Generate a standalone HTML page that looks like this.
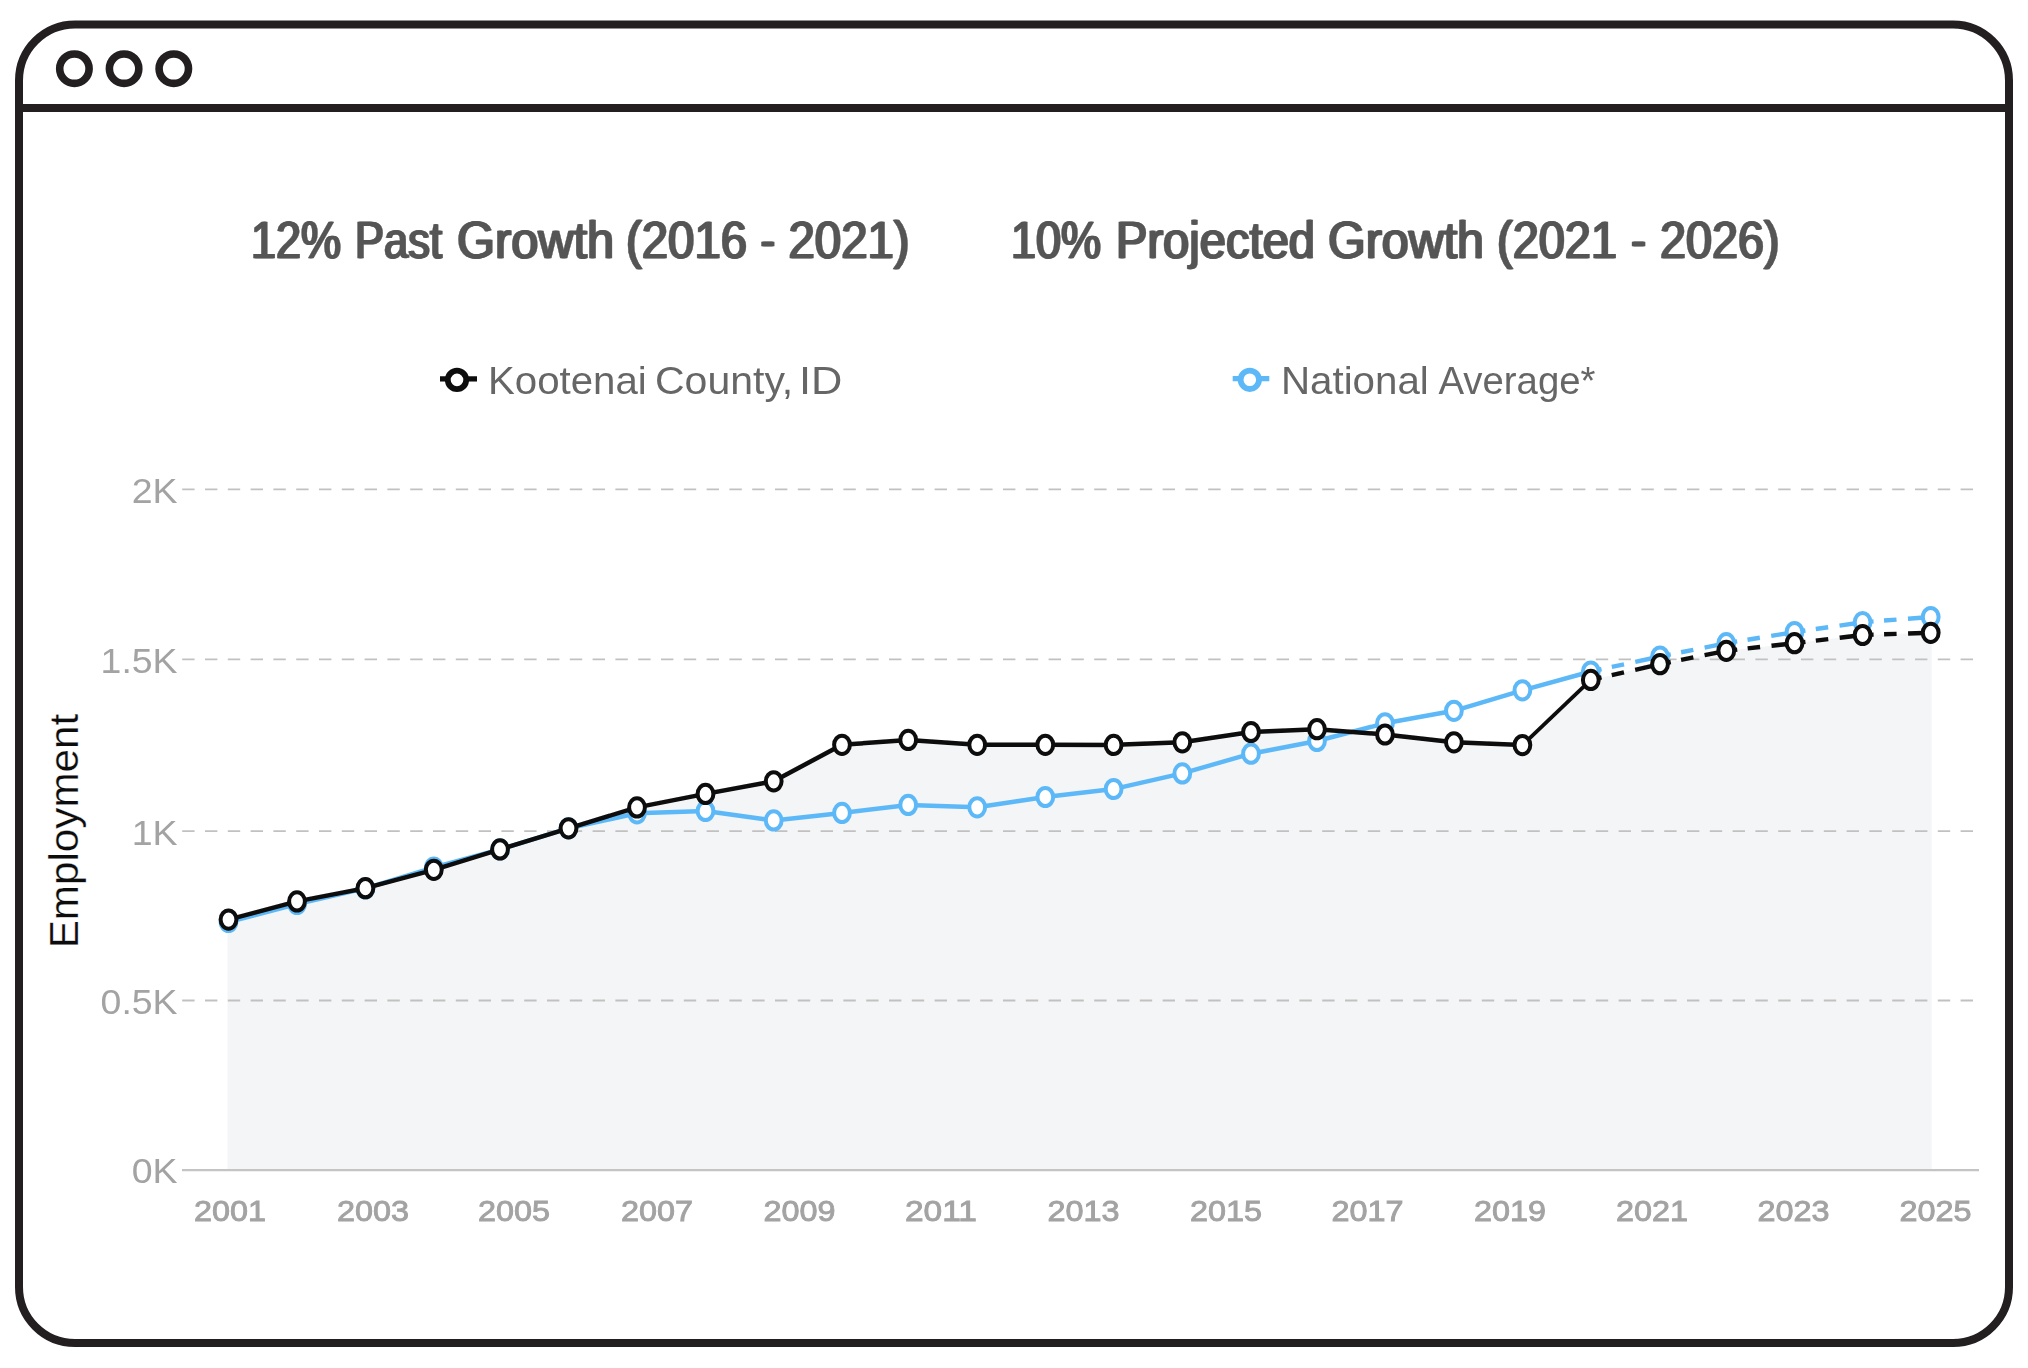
<!DOCTYPE html>
<html lang="en">
<head>
<meta charset="utf-8">
<title>Employment Growth</title>
<style>
html,body{margin:0;padding:0;background:#fff;}
body{width:2028px;height:1368px;overflow:hidden;font-family:"Liberation Sans",sans-serif;}
svg{display:block;position:absolute;left:0;top:0;}
text{font-family:"Liberation Sans",sans-serif;}
.title{font-size:51.5px;fill:#555;stroke:#555;stroke-width:0.4px;stroke-linejoin:round;}
.leg{font-size:38.5px;fill:#666;}
.ytick{font-size:35.3px;fill:#a3a3a3;}
.xtick{font-size:29px;fill:#a3a3a3;stroke:#a3a3a3;stroke-width:0.9px;}
.axis{font-size:40px;fill:#0c0c0c;stroke:#fff;stroke-width:0.25px;}
</style>
</head>
<body>
<svg width="2028" height="1368" viewBox="0 0 2028 1368">
<defs>
<filter id="soft" x="-5%" y="-5%" width="110%" height="110%"><feGaussianBlur stdDeviation="0.5"/></filter>
<filter id="hs" x="-2%" y="-20%" width="104%" height="140%"><feOffset in="SourceGraphic" dx="-0.6" dy="0" result="a"/><feOffset in="SourceGraphic" dx="0.6" dy="0" result="b"/><feMerge result="m"><feMergeNode in="a"/><feMergeNode in="b"/><feMergeNode in="SourceGraphic"/></feMerge><feGaussianBlur in="m" stdDeviation="0.55"/></filter>
</defs>
<!-- browser frame -->
<rect x="19" y="24.5" width="1990" height="1318.5" rx="56" ry="56" fill="#fff" stroke="#231f20" stroke-width="8"/>
<line x1="19" y1="108" x2="2009" y2="108" stroke="#231f20" stroke-width="8"/>
<circle cx="74.4" cy="68.7" r="14.7" fill="none" stroke="#231f20" stroke-width="7.6"/>
<circle cx="124.1" cy="68.7" r="14.7" fill="none" stroke="#231f20" stroke-width="7.6"/>
<circle cx="173.8" cy="68.7" r="14.7" fill="none" stroke="#231f20" stroke-width="7.6"/>

<g filter="url(#soft)">
<text class="title" y="258.3" filter="url(#hs)"><tspan x="251.00" textLength="90.08" lengthAdjust="spacingAndGlyphs">12%</tspan> <tspan x="355.00" textLength="87.04" lengthAdjust="spacingAndGlyphs">Past</tspan> <tspan x="457.00" textLength="157.06" lengthAdjust="spacingAndGlyphs">Growth</tspan> <tspan x="626.00" textLength="121.06" lengthAdjust="spacingAndGlyphs">(2016</tspan> <tspan x="760.50" textLength="14.62" lengthAdjust="spacingAndGlyphs">-</tspan> <tspan x="788.50" textLength="121.06" lengthAdjust="spacingAndGlyphs">2021)</tspan></text>
<text class="title" y="258.3" filter="url(#hs)"><tspan x="1011.00" textLength="90.05" lengthAdjust="spacingAndGlyphs">10%</tspan> <tspan x="1116.00" textLength="199.07" lengthAdjust="spacingAndGlyphs">Projected</tspan> <tspan x="1328.00" textLength="156.04" lengthAdjust="spacingAndGlyphs">Growth</tspan> <tspan x="1497.00" textLength="120.06" lengthAdjust="spacingAndGlyphs">(2021</tspan> <tspan x="1631.00" textLength="15.11" lengthAdjust="spacingAndGlyphs">-</tspan> <tspan x="1660.00" textLength="119.55" lengthAdjust="spacingAndGlyphs">2026)</tspan></text>
<line x1="440" y1="378.8" x2="477" y2="378.8" stroke="#0b0b0b" stroke-width="5.2"/>
<circle cx="457" cy="379.9" r="9.2" fill="#fff" stroke="#0b0b0b" stroke-width="5.8"/>
<text class="leg" y="393.6"><tspan x="488.00" textLength="158.73" lengthAdjust="spacingAndGlyphs">Kootenai</tspan> <tspan x="655.00" textLength="138.24" lengthAdjust="spacingAndGlyphs">County,</tspan> <tspan x="799.00" textLength="43.37" lengthAdjust="spacingAndGlyphs">ID</tspan></text>
<line x1="1232.7" y1="378.7" x2="1269.3" y2="378.7" stroke="#5db8f8" stroke-width="5.2"/>
<circle cx="1249.8" cy="379.8" r="9.2" fill="#fff" stroke="#5db8f8" stroke-width="5.8"/>
<text class="leg" y="393.6"><tspan x="1281.00" textLength="147.75" lengthAdjust="spacingAndGlyphs">National</tspan> <tspan x="1438.50" textLength="157.00" lengthAdjust="spacingAndGlyphs">Average*</tspan></text>
<path d="M227.5,1170 L227.5,919.6 L228.5,919.6 L297.0,901.4 L365.4,888.2 L433.8,869.8 L500.0,849.4 L568.5,828.3 L637.0,807.4 L705.5,793.9 L773.7,781.3 L842.0,744.8 L908.2,739.9 L977.2,744.8 L1045.3,744.8 L1113.6,744.9 L1182.3,742.3 L1251.0,732.0 L1317.0,729.2 L1385.0,734.5 L1453.9,742.3 L1522.4,745.1 L1590.8,679.9 L1660.0,664.2 L1726.3,650.8 L1794.5,643.2 L1862.6,635.0 L1930.7,632.8 L1931.7,632.8 L1931.7,1170 Z" fill="#f4f5f7"/>
<line x1="182.2" y1="489.4" x2="1973.4" y2="489.4" stroke="#c1c1c1" stroke-width="1.8" stroke-dasharray="12.4 10.4"/>
<line x1="182.2" y1="659.3" x2="1973.4" y2="659.3" stroke="#c1c1c1" stroke-width="1.8" stroke-dasharray="12.4 10.4"/>
<line x1="182.2" y1="831.1" x2="1973.4" y2="831.1" stroke="#c1c1c1" stroke-width="1.8" stroke-dasharray="12.4 10.4"/>
<line x1="182.2" y1="1000.5" x2="1973.4" y2="1000.5" stroke="#c1c1c1" stroke-width="1.8" stroke-dasharray="12.4 10.4"/>
<line x1="182" y1="1170.2" x2="1979" y2="1170.2" stroke="#c4c4c4" stroke-width="2.2"/>
<text class="ytick" x="131.7" y="503.3" textLength="45.9" lengthAdjust="spacingAndGlyphs">2K</text>
<text class="ytick" x="100.6" y="673.1" textLength="77.0" lengthAdjust="spacingAndGlyphs">1.5K</text>
<text class="ytick" x="131.7" y="844.9" textLength="45.9" lengthAdjust="spacingAndGlyphs">1K</text>
<text class="ytick" x="100.6" y="1014.3" textLength="77.0" lengthAdjust="spacingAndGlyphs">0.5K</text>
<text class="ytick" x="131.7" y="1183.3" textLength="45.9" lengthAdjust="spacingAndGlyphs">0K</text>
<text class="xtick" x="194.0" y="1220.6" textLength="72" lengthAdjust="spacingAndGlyphs">2001</text>
<text class="xtick" x="337.0" y="1220.6" textLength="72" lengthAdjust="spacingAndGlyphs">2003</text>
<text class="xtick" x="478.0" y="1220.6" textLength="72" lengthAdjust="spacingAndGlyphs">2005</text>
<text class="xtick" x="621.0" y="1220.6" textLength="72" lengthAdjust="spacingAndGlyphs">2007</text>
<text class="xtick" x="763.5" y="1220.6" textLength="72" lengthAdjust="spacingAndGlyphs">2009</text>
<text class="xtick" x="905.0" y="1220.6" textLength="72" lengthAdjust="spacingAndGlyphs">2011</text>
<text class="xtick" x="1047.5" y="1220.6" textLength="72" lengthAdjust="spacingAndGlyphs">2013</text>
<text class="xtick" x="1190.0" y="1220.6" textLength="72" lengthAdjust="spacingAndGlyphs">2015</text>
<text class="xtick" x="1331.5" y="1220.6" textLength="72" lengthAdjust="spacingAndGlyphs">2017</text>
<text class="xtick" x="1474.0" y="1220.6" textLength="72" lengthAdjust="spacingAndGlyphs">2019</text>
<text class="xtick" x="1616.0" y="1220.6" textLength="72" lengthAdjust="spacingAndGlyphs">2021</text>
<text class="xtick" x="1757.5" y="1220.6" textLength="72" lengthAdjust="spacingAndGlyphs">2023</text>
<text class="xtick" x="1899.5" y="1220.6" textLength="72" lengthAdjust="spacingAndGlyphs">2025</text>
<polyline points="228.5,922.0 297.0,904.0 365.4,888.4 433.8,867.5 500.0,849.4 568.5,828.3 637.0,813.3 705.5,811.0 773.7,820.4 842.0,812.9 908.2,804.9 977.2,807.3 1045.3,797.0 1113.6,789.0 1182.3,773.4 1251.0,753.7 1317.0,741.0 1385.0,723.3 1453.9,710.8 1522.4,690.3 1590.8,671.5" fill="none" stroke="#5db8f8" stroke-width="4.5" stroke-linejoin="round"/>
<line x1="1590.8" y1="671.5" x2="1660.0" y2="656.5" stroke="#5db8f8" stroke-width="4.4" stroke-dasharray="11 10.5 12.5 11.5 40"/>
<line x1="1660.0" y1="656.5" x2="1726.3" y2="643.2" stroke="#5db8f8" stroke-width="4.4" stroke-dasharray="11 10.5 12.5 11.5 40"/>
<line x1="1726.3" y1="643.2" x2="1794.5" y2="632.1" stroke="#5db8f8" stroke-width="4.4" stroke-dasharray="11 10.5 12.5 11.5 40"/>
<line x1="1794.5" y1="632.1" x2="1862.6" y2="622.2" stroke="#5db8f8" stroke-width="4.4" stroke-dasharray="11 10.5 12.5 11.5 40"/>
<line x1="1862.6" y1="622.2" x2="1930.7" y2="617.0" stroke="#5db8f8" stroke-width="4.4" stroke-dasharray="11 10.5 12.5 11.5 40"/>
<ellipse cx="228.5" cy="922.0" rx="7.9" ry="9.1" fill="#fff" stroke="#5db8f8" stroke-width="4"/>
<ellipse cx="297.0" cy="904.0" rx="7.9" ry="9.1" fill="#fff" stroke="#5db8f8" stroke-width="4"/>
<ellipse cx="365.4" cy="888.4" rx="7.9" ry="9.1" fill="#fff" stroke="#5db8f8" stroke-width="4"/>
<ellipse cx="433.8" cy="867.5" rx="7.9" ry="9.1" fill="#fff" stroke="#5db8f8" stroke-width="4"/>
<ellipse cx="500.0" cy="849.4" rx="7.9" ry="9.1" fill="#fff" stroke="#5db8f8" stroke-width="4"/>
<ellipse cx="568.5" cy="828.3" rx="7.9" ry="9.1" fill="#fff" stroke="#5db8f8" stroke-width="4"/>
<ellipse cx="637.0" cy="813.3" rx="7.9" ry="9.1" fill="#fff" stroke="#5db8f8" stroke-width="4"/>
<ellipse cx="705.5" cy="811.0" rx="7.9" ry="9.1" fill="#fff" stroke="#5db8f8" stroke-width="4"/>
<ellipse cx="773.7" cy="820.4" rx="7.9" ry="9.1" fill="#fff" stroke="#5db8f8" stroke-width="4"/>
<ellipse cx="842.0" cy="812.9" rx="7.9" ry="9.1" fill="#fff" stroke="#5db8f8" stroke-width="4"/>
<ellipse cx="908.2" cy="804.9" rx="7.9" ry="9.1" fill="#fff" stroke="#5db8f8" stroke-width="4"/>
<ellipse cx="977.2" cy="807.3" rx="7.9" ry="9.1" fill="#fff" stroke="#5db8f8" stroke-width="4"/>
<ellipse cx="1045.3" cy="797.0" rx="7.9" ry="9.1" fill="#fff" stroke="#5db8f8" stroke-width="4"/>
<ellipse cx="1113.6" cy="789.0" rx="7.9" ry="9.1" fill="#fff" stroke="#5db8f8" stroke-width="4"/>
<ellipse cx="1182.3" cy="773.4" rx="7.9" ry="9.1" fill="#fff" stroke="#5db8f8" stroke-width="4"/>
<ellipse cx="1251.0" cy="753.7" rx="7.9" ry="9.1" fill="#fff" stroke="#5db8f8" stroke-width="4"/>
<ellipse cx="1317.0" cy="741.0" rx="7.9" ry="9.1" fill="#fff" stroke="#5db8f8" stroke-width="4"/>
<ellipse cx="1385.0" cy="723.3" rx="7.9" ry="9.1" fill="#fff" stroke="#5db8f8" stroke-width="4"/>
<ellipse cx="1453.9" cy="710.8" rx="7.9" ry="9.1" fill="#fff" stroke="#5db8f8" stroke-width="4"/>
<ellipse cx="1522.4" cy="690.3" rx="7.9" ry="9.1" fill="#fff" stroke="#5db8f8" stroke-width="4"/>
<ellipse cx="1590.8" cy="671.5" rx="7.9" ry="9.1" fill="#fff" stroke="#5db8f8" stroke-width="4"/>
<ellipse cx="1660.0" cy="656.5" rx="7.9" ry="9.1" fill="#fff" stroke="#5db8f8" stroke-width="4"/>
<ellipse cx="1726.3" cy="643.2" rx="7.9" ry="9.1" fill="#fff" stroke="#5db8f8" stroke-width="4"/>
<ellipse cx="1794.5" cy="632.1" rx="7.9" ry="9.1" fill="#fff" stroke="#5db8f8" stroke-width="4"/>
<ellipse cx="1862.6" cy="622.2" rx="7.9" ry="9.1" fill="#fff" stroke="#5db8f8" stroke-width="4"/>
<ellipse cx="1930.7" cy="617.0" rx="7.9" ry="9.1" fill="#fff" stroke="#5db8f8" stroke-width="4"/>
<polyline points="228.5,919.6 297.0,901.4 365.4,888.2 433.8,869.8 500.0,849.4 568.5,828.3 637.0,807.4 705.5,793.9 773.7,781.3 842.0,744.8 908.2,739.9 977.2,744.8 1045.3,744.8 1113.6,744.9 1182.3,742.3 1251.0,732.0 1317.0,729.2 1385.0,734.5 1453.9,742.3 1522.4,745.1" fill="none" stroke="#0b0b0b" stroke-width="4.5" stroke-linejoin="round"/>
<polyline points="1522.4,745.1 1590.8,679.9" fill="none" stroke="#0b0b0b" stroke-width="3.8"/>
<line x1="1590.8" y1="679.9" x2="1660.0" y2="664.2" stroke="#0b0b0b" stroke-width="4.4" stroke-dasharray="11 10.5 12.5 11.5 40"/>
<line x1="1660.0" y1="664.2" x2="1726.3" y2="650.8" stroke="#0b0b0b" stroke-width="4.4" stroke-dasharray="11 10.5 12.5 11.5 40"/>
<line x1="1726.3" y1="650.8" x2="1794.5" y2="643.2" stroke="#0b0b0b" stroke-width="4.4" stroke-dasharray="11 10.5 12.5 11.5 40"/>
<line x1="1794.5" y1="643.2" x2="1862.6" y2="635.0" stroke="#0b0b0b" stroke-width="4.4" stroke-dasharray="11 10.5 12.5 11.5 40"/>
<line x1="1862.6" y1="635.0" x2="1930.7" y2="632.8" stroke="#0b0b0b" stroke-width="4.4" stroke-dasharray="11 10.5 12.5 11.5 40"/>
<ellipse cx="228.5" cy="919.6" rx="7.9" ry="9.1" fill="#fff" stroke="#0b0b0b" stroke-width="4"/>
<ellipse cx="297.0" cy="901.4" rx="7.9" ry="9.1" fill="#fff" stroke="#0b0b0b" stroke-width="4"/>
<ellipse cx="365.4" cy="888.2" rx="7.9" ry="9.1" fill="#fff" stroke="#0b0b0b" stroke-width="4"/>
<ellipse cx="433.8" cy="869.8" rx="7.9" ry="9.1" fill="#fff" stroke="#0b0b0b" stroke-width="4"/>
<ellipse cx="500.0" cy="849.4" rx="7.9" ry="9.1" fill="#fff" stroke="#0b0b0b" stroke-width="4"/>
<ellipse cx="568.5" cy="828.3" rx="7.9" ry="9.1" fill="#fff" stroke="#0b0b0b" stroke-width="4"/>
<ellipse cx="637.0" cy="807.4" rx="7.9" ry="9.1" fill="#fff" stroke="#0b0b0b" stroke-width="4"/>
<ellipse cx="705.5" cy="793.9" rx="7.9" ry="9.1" fill="#fff" stroke="#0b0b0b" stroke-width="4"/>
<ellipse cx="773.7" cy="781.3" rx="7.9" ry="9.1" fill="#fff" stroke="#0b0b0b" stroke-width="4"/>
<ellipse cx="842.0" cy="744.8" rx="7.9" ry="9.1" fill="#fff" stroke="#0b0b0b" stroke-width="4"/>
<ellipse cx="908.2" cy="739.9" rx="7.9" ry="9.1" fill="#fff" stroke="#0b0b0b" stroke-width="4"/>
<ellipse cx="977.2" cy="744.8" rx="7.9" ry="9.1" fill="#fff" stroke="#0b0b0b" stroke-width="4"/>
<ellipse cx="1045.3" cy="744.8" rx="7.9" ry="9.1" fill="#fff" stroke="#0b0b0b" stroke-width="4"/>
<ellipse cx="1113.6" cy="744.9" rx="7.9" ry="9.1" fill="#fff" stroke="#0b0b0b" stroke-width="4"/>
<ellipse cx="1182.3" cy="742.3" rx="7.9" ry="9.1" fill="#fff" stroke="#0b0b0b" stroke-width="4"/>
<ellipse cx="1251.0" cy="732.0" rx="7.9" ry="9.1" fill="#fff" stroke="#0b0b0b" stroke-width="4"/>
<ellipse cx="1317.0" cy="729.2" rx="7.9" ry="9.1" fill="#fff" stroke="#0b0b0b" stroke-width="4"/>
<ellipse cx="1385.0" cy="734.5" rx="7.9" ry="9.1" fill="#fff" stroke="#0b0b0b" stroke-width="4"/>
<ellipse cx="1453.9" cy="742.3" rx="7.9" ry="9.1" fill="#fff" stroke="#0b0b0b" stroke-width="4"/>
<ellipse cx="1522.4" cy="745.1" rx="7.9" ry="9.1" fill="#fff" stroke="#0b0b0b" stroke-width="4"/>
<ellipse cx="1590.8" cy="679.9" rx="7.9" ry="9.1" fill="#fff" stroke="#0b0b0b" stroke-width="4"/>
<ellipse cx="1660.0" cy="664.2" rx="7.9" ry="9.1" fill="#fff" stroke="#0b0b0b" stroke-width="4"/>
<ellipse cx="1726.3" cy="650.8" rx="7.9" ry="9.1" fill="#fff" stroke="#0b0b0b" stroke-width="4"/>
<ellipse cx="1794.5" cy="643.2" rx="7.9" ry="9.1" fill="#fff" stroke="#0b0b0b" stroke-width="4"/>
<ellipse cx="1862.6" cy="635.0" rx="7.9" ry="9.1" fill="#fff" stroke="#0b0b0b" stroke-width="4"/>
<ellipse cx="1930.7" cy="632.8" rx="7.9" ry="9.1" fill="#fff" stroke="#0b0b0b" stroke-width="4"/>
</g>
<text class="axis" transform="translate(77.5,948.3) rotate(-90)" textLength="234.5" lengthAdjust="spacingAndGlyphs">Employment</text>
</svg>
</body>
</html>
